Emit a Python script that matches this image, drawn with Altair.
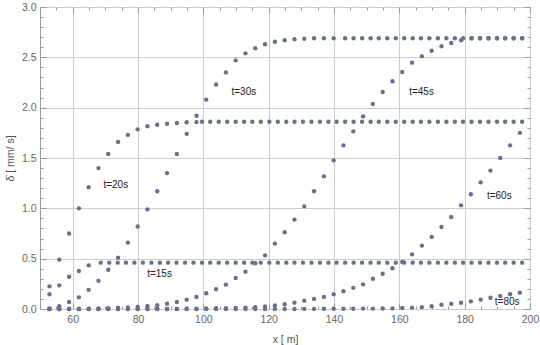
import altair as alt
import pandas as pd

# x positions of the samples (two sampling grids seen in the picture)
COARSE_X = [52.9, 55.9, 58.9, 61.9, 64.9, 67.9, 70.9, 73.9, 76.9, 79.9, 82.9, 85.9,
            88.9, 91.9, 94.9, 97.9, 100.9, 103.9, 106.9, 109.9, 112.9, 115.9, 118.9,
            121.9, 124.9, 127.9, 130.9, 133.9, 136.9, 139.9, 142.9, 145.9, 148.9,
            151.9, 154.9, 157.9, 160.9, 163.9, 166.9, 169.9, 172.9, 175.9, 178.9,
            181.9, 184.9, 187.9, 190.9, 193.9, 196.9]
FINE_X = [68.6, 71.2, 73.8, 76.3, 78.9, 81.5, 84.1, 86.7, 89.2, 91.8, 94.4, 97.0,
          99.6, 102.1, 104.7, 107.3, 109.9, 112.5, 115.0, 117.6, 120.2, 122.8, 125.4,
          127.9, 130.5, 133.1, 135.7, 138.3, 140.8, 143.4, 146.0, 148.6, 151.2, 153.7,
          156.3, 158.9, 161.5, 164.1, 166.6, 169.2, 171.8, 174.4, 177.0, 179.5, 182.1,
          184.7, 187.3, 189.9, 192.4, 195.0, 197.6]

# rising parts (on COARSE_X) and plateau (on FINE_X from a start x)
t15_rise = [0.146, 0.235, 0.32, 0.377, 0.434]
t15_plateau_from, t15_level = 68.6, 0.46

t20_rise = [0.225, 0.49, 0.75, 1.0, 1.21, 1.40, 1.54, 1.66, 1.73, 1.785, 1.815, 1.83,
            1.84, 1.848, 1.855, 1.857]
t20_plateau_from, t20_level = 99.6, 1.86

t30_rise = [0.005, 0.027, 0.07, 0.116, 0.19, 0.28, 0.39, 0.51, 0.66, 0.82, 0.99, 1.17,
            1.35, 1.54, 1.74, 1.92, 2.08, 2.23, 2.35, 2.47, 2.54, 2.59, 2.63, 2.655,
            2.67, 2.68, 2.685, 2.69, 2.69, 2.69]
t30_plateau_from, t30_level = 143.4, 2.69

t45_rise = [0.0, 0.0, 0.001, 0.002, 0.003, 0.005, 0.008, 0.012, 0.016, 0.02, 0.03,
            0.037, 0.053, 0.07, 0.093, 0.12, 0.156, 0.196, 0.242, 0.308, 0.371, 0.455,
            0.533, 0.65, 0.762, 0.888, 1.02, 1.17, 1.318, 1.477, 1.626, 1.765, 1.914,
            2.036, 2.156, 2.262, 2.354, 2.447, 2.51, 2.565, 2.61, 2.642, 2.67]
t45_plateau_from, t45_level = 182.1, 2.69

t60_rise = [0.0, 0.0, 0.0, 0.0, 0.0, 0.0, 0.0, 0.0, 0.0, 0.0, 0.0, 0.0, 0.0, 0.001,
            0.002, 0.003, 0.005, 0.007, 0.009, 0.011, 0.014, 0.018, 0.025, 0.035, 0.047,
            0.063, 0.083, 0.10, 0.12, 0.146, 0.176, 0.21, 0.245, 0.30, 0.35, 0.405,
            0.467, 0.543, 0.63, 0.716, 0.815, 0.914, 1.03, 1.14, 1.258, 1.375, 1.50,
            1.626, 1.75]

t80_rise = [0.0, 0.0, 0.0, 0.0, 0.0, 0.0, 0.0, 0.0, 0.0, 0.0, 0.0, 0.0, 0.0, 0.0,
            0.0, 0.0, 0.0, 0.0, 0.0, 0.0, 0.0, 0.0, 0.0, 0.0, 0.0, 0.0, 0.001, 0.001,
            0.002, 0.002, 0.003, 0.003, 0.004, 0.004, 0.005, 0.006, 0.01, 0.013, 0.018,
            0.027, 0.042, 0.052, 0.062, 0.076, 0.093, 0.112, 0.13, 0.146, 0.162]

label_text = ["t=15s", "t=20s", "t=30s", "t=45s", "t=60s", "t=80s"]
label_x = [86.6, 73.2, 112.4, 166.8, 190.6, 193.0]
label_y = [0.345, 1.236, 2.156, 2.156, 1.12, 0.07]

X_MAJOR = [60, 80, 100, 120, 140, 160, 180, 200]
X_MINOR = [50, 55, 60, 65, 70, 75, 80, 85, 90, 95, 100, 105, 110, 115, 120, 125, 130,
           135, 140, 145, 150, 155, 160, 165, 170, 175, 180, 185, 190, 195, 200]
Y_MAJOR = [0.0, 0.5, 1.0, 1.5, 2.0, 2.5, 3.0]
Y_MINOR = [0.0, 0.1, 0.2, 0.3, 0.4, 0.5, 0.6, 0.7, 0.8, 0.9, 1.0, 1.1, 1.2, 1.3, 1.4,
           1.5, 1.6, 1.7, 1.8, 1.9, 2.0, 2.1, 2.2, 2.3, 2.4, 2.5, 2.6, 2.7, 2.8, 2.9, 3.0]

series = [
    ("t=15s", t15_rise, t15_plateau_from, t15_level),
    ("t=20s", t20_rise, t20_plateau_from, t20_level),
    ("t=30s", t30_rise, t30_plateau_from, t30_level),
    ("t=45s", t45_rise, t45_plateau_from, t45_level),
    ("t=60s", t60_rise, None, None),
    ("t=80s", t80_rise, None, None),
]
rows = []
for name, rise, p_from, level in series:
    for xv, yv in zip(COARSE_X, rise):
        rows.append({"t": name, "x": xv, "y": yv})
    if p_from is not None:
        for xv in FINE_X:
            if xv >= p_from:
                rows.append({"t": name, "x": xv, "y": level})
pts = pd.DataFrame(rows)
labels = pd.DataFrame({"label": label_text, "lx": label_x, "ly": label_y})

FONT = "Liberation Sans"
DOT = "#67708c"
FRAME = "#9a9a9a"
xs = alt.Scale(domain=[50, 200], nice=False, zero=False)
ys = alt.Scale(domain=[0, 3], nice=False, zero=False)


def tick_axis(orient, values, size):
    return alt.Axis(orient=orient, values=values, labels=False, ticks=True,
                    tickSize=size, offset=-size, tickColor=FRAME, tickWidth=1,
                    domain=False, grid=False, title="")


main = alt.Chart(pts).mark_circle(size=19, color=DOT, opacity=1).encode(
    x=alt.X("x:Q", scale=xs, axis=alt.Axis(
        orient="bottom", values=X_MAJOR, format="d", grid=True, gridColor="#cccccc",
        gridWidth=1, ticks=False, domain=False, labelFont=FONT, labelFontSize=10.5,
        labelColor="#666666", labelPadding=5, labelFlush=False, labelOverlap=False,
        title="x [ m]", titleFont=FONT, titleFontSize=10.5, titleFontWeight="normal",
        titleColor="#555555", titlePadding=10)),
    y=alt.Y("y:Q", scale=ys, axis=alt.Axis(
        orient="left", values=Y_MAJOR, format=".1f", grid=True, gridColor="#cccccc",
        gridWidth=1, ticks=False, domain=False, labelFont=FONT, labelFontSize=10.5,
        labelColor="#666666", labelPadding=4, labelFlush=False, labelOverlap=False,
        title="δ̇ [ mm/ s]", titleFont=FONT, titleFontSize=10.5, titleFontWeight="normal",
        titleColor="#555555", titlePadding=6)),
)

text = alt.Chart(labels).mark_text(font=FONT, fontSize=10, color="#222222",
                                    align="center", baseline="middle").encode(
    x=alt.X("lx:Q", scale=xs, axis=tick_axis("bottom", X_MAJOR, 6)),
    y=alt.Y("ly:Q", scale=ys, axis=tick_axis("left", Y_MAJOR, 6)),
    text="label:N",
)

minor_bl = alt.Chart(pts).mark_circle(opacity=0).encode(
    x=alt.X("x:Q", scale=xs, axis=tick_axis("bottom", X_MINOR, 3)),
    y=alt.Y("y:Q", scale=ys, axis=tick_axis("left", Y_MINOR, 3)),
)
major_tr = alt.Chart(pts).mark_circle(opacity=0).encode(
    x=alt.X("x:Q", scale=xs, axis=tick_axis("top", X_MAJOR, 6)),
    y=alt.Y("y:Q", scale=ys, axis=tick_axis("right", Y_MAJOR, 6)),
)
minor_tr = alt.Chart(pts).mark_circle(opacity=0).encode(
    x=alt.X("x:Q", scale=xs, axis=tick_axis("top", X_MINOR, 3)),
    y=alt.Y("y:Q", scale=ys, axis=tick_axis("right", Y_MINOR, 3)),
)

chart = alt.layer(main, text, minor_bl, major_tr, minor_tr).resolve_axis(
    x="independent", y="independent"
).properties(
    width=490, height=302,
    padding={"left": 40, "top": 7, "right": 10, "bottom": 36},
    autosize=alt.AutoSizeParams(type="none"),
    background="white",
).configure_view(stroke=FRAME, strokeWidth=1)

chart.save("out.html", embed_options={"renderer": "svg", "actions": False})
